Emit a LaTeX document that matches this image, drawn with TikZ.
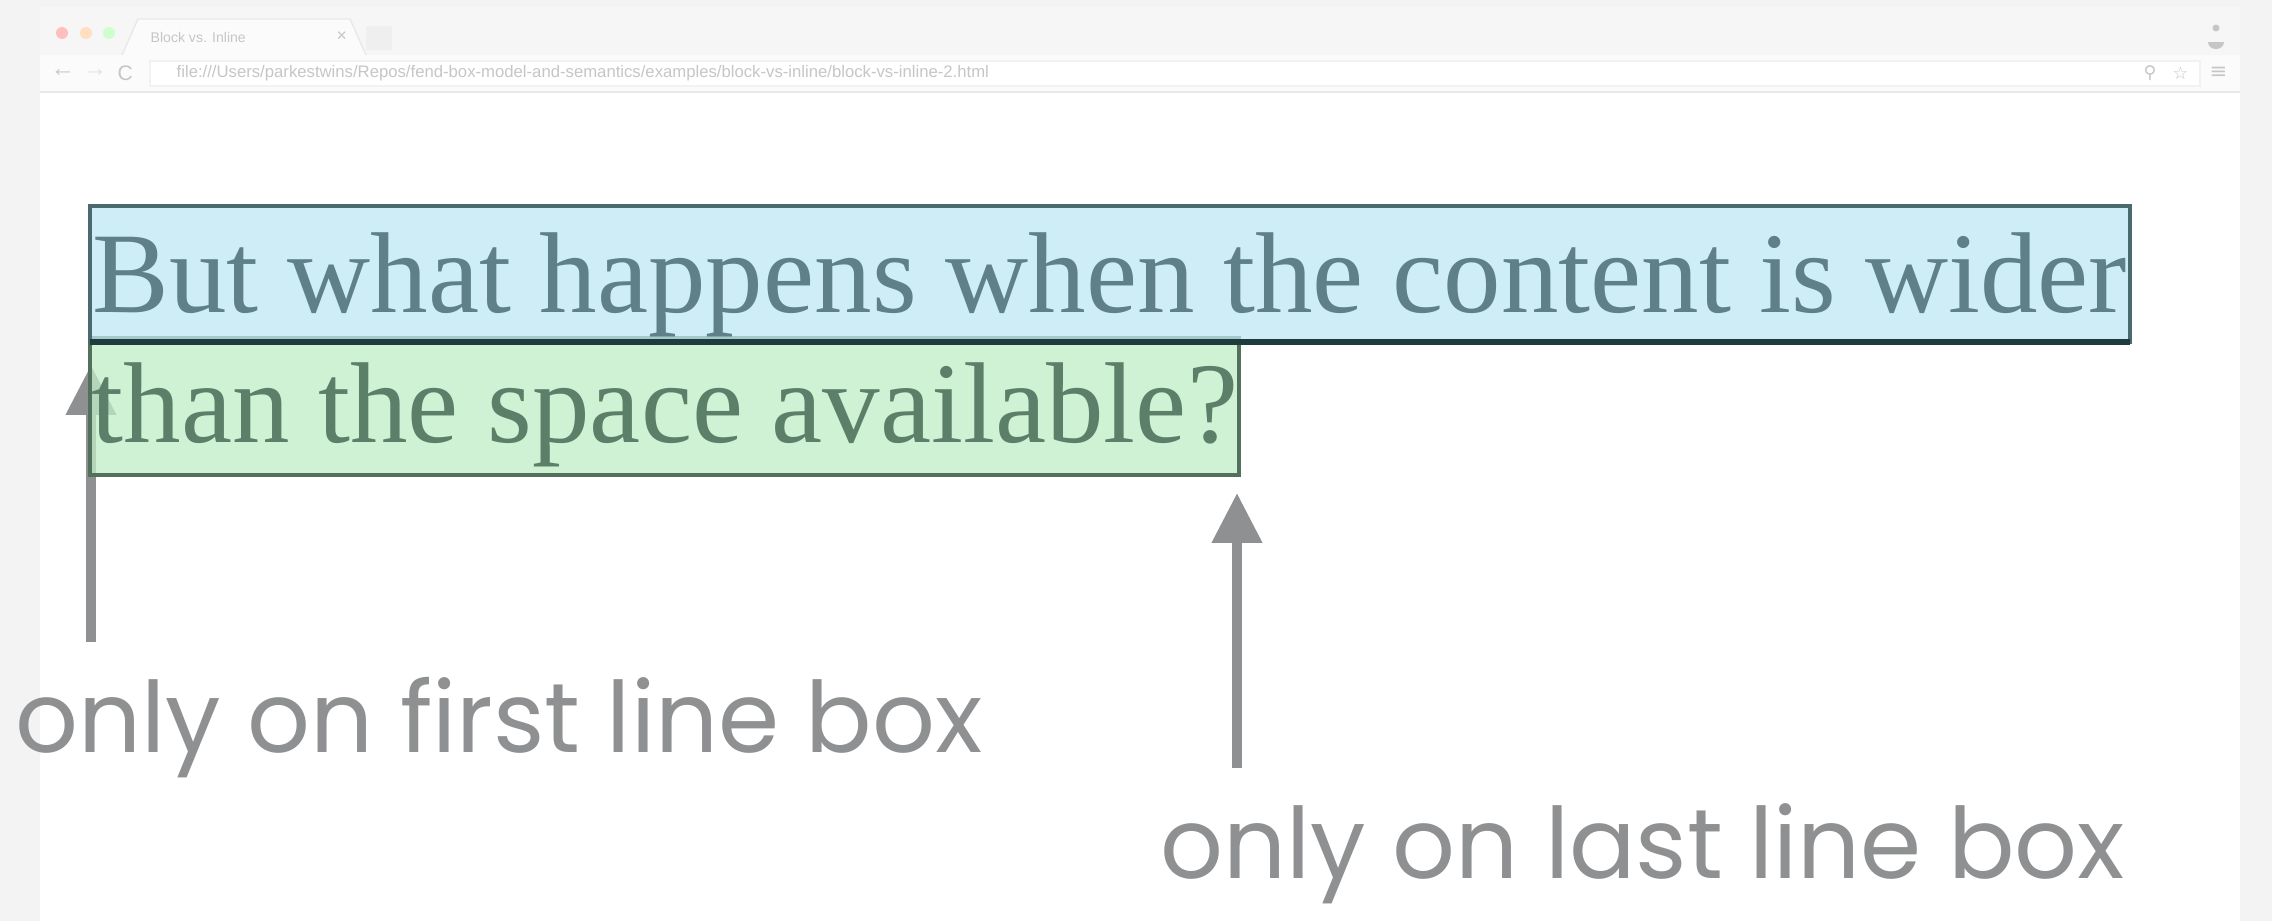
\documentclass[tikz,border=0pt]{standalone}
\usepackage{fontspec}
\setmainfont{Liberation Serif}
\newfontfamily\handfont{Poppins}
\newfontfamily\uifont{Liberation Sans}
\newfontfamily\symfont{DejaVu Sans}
\usetikzlibrary{arrows.meta}

\definecolor{pageGray}{HTML}{F3F3F3}
\definecolor{chromeGray}{HTML}{F6F6F6}
\definecolor{chromeLine}{HTML}{E9E9E9}
\definecolor{chromeText}{HTML}{C6C6C6}
\definecolor{blueFill}{HTML}{BFE8F3}
\definecolor{blueLine}{HTML}{4A6A70}
\definecolor{blueDark}{HTML}{1F3B3D}
\definecolor{blueText}{HTML}{5F7F89}
\definecolor{greenFill}{HTML}{C0EEC8}
\definecolor{greenLine}{HTML}{52705C}
\definecolor{greenText}{HTML}{5B7F69}
\definecolor{noteGray}{HTML}{8E9092}

\begin{document}
\begin{tikzpicture}[x = 0.01cm, y = -0.01cm]
	\tikzstyle{lineBoxStyle} = [line width = 1.1pt, fill opacity = 0.75]
	\tikzstyle{lineTextStyle} = [inner sep = 0pt, anchor = base west, font = \fontsize{32.7}{36}\selectfont]
	\tikzstyle{noteStyle} = [inner sep = 0pt, anchor = base west, text = noteGray, font = \handfont\fontsize{28}{32}\selectfont]
	\tikzstyle{noteArrowStyle} = [draw = noteGray, line width = 2.85pt, -{Triangle[length = 14.2pt, width = 13.7pt]}]
	\tikzstyle{uiTextStyle} = [inner sep = 0pt, anchor = west, text = chromeText]
	\useasboundingbox (0, 0) rectangle (2272, 921);
	\fill[pageGray] (0, 0) rectangle (2272, 921);
	\fill[white] (40, 7) rectangle (2240, 921);
	\fill[chromeGray] (40, 7) rectangle (2240, 55);
	\filldraw[fill = white!60!chromeGray, draw = chromeLine] (122, 55) -- (138, 19) -- (350, 19) -- (366, 55);
	\fill[chromeLine!50!chromeGray] (366, 26) rectangle (392, 50);
	\fill[red!25] (62, 33) circle (6);
	\fill[orange!25] (86, 33) circle (6);
	\fill[green!20] (109, 33) circle (6);
	\node[uiTextStyle, font = \uifont\fontsize{4}{5}\selectfont] (tabTitle) at (150, 37) {Block vs. Inline};
	\node[uiTextStyle, font = \uifont\fontsize{5}{6}\selectfont] (tabClose) at (336, 37) {×};
	\fill[chromeText] (2216, 28) circle (3.5);
	\fill[chromeText] (2208, 42) arc (180 : 0 : 8 and 7) -- cycle;
	\fill[white!60!chromeGray] (40, 55) rectangle (2240, 92);
	\draw[chromeLine] (40, 92) -- (2240, 92);
	\filldraw[fill = white, draw = chromeLine!60] (150, 61) rectangle (2200, 86);
	\node[uiTextStyle, font = \uifont\fontsize{7}{8}\selectfont] (backBtn) at (50, 73) {←};
	\node[uiTextStyle, font = \uifont\fontsize{7}{8}\selectfont, text = chromeText!50] (fwdBtn) at (82, 73) {→};
	\node[uiTextStyle, font = \uifont\fontsize{6}{7}\selectfont] (reloadBtn) at (117, 73) {C};
	\node[uiTextStyle, font = \uifont\fontsize{4.75}{6}\selectfont] (urlText) at (176, 73) {file:///Users/parkestwins/Repos/fend-box-model-and-semantics/examples/block-vs-inline/block-vs-inline-2.html};
	\node[uiTextStyle, font = \symfont\fontsize{5}{6}\selectfont] (zoomIcon) at (2143, 73) {⚲};
	\node[uiTextStyle, font = \symfont\fontsize{5}{6}\selectfont] (starIcon) at (2172, 73) {☆};
	\node[uiTextStyle, font = \symfont\fontsize{6}{7}\selectfont] (menuIcon) at (2209, 73) {≡};
	\coordinate (firstTail) at (91, 642);
	\coordinate (firstTip) at (91, 365);
	\coordinate (lastTail) at (1237, 768);
	\coordinate (lastTip) at (1237, 493);
	\draw[noteArrowStyle] (firstTail) -- (firstTip);
	\draw[noteArrowStyle] (lastTail) -- (lastTip);
	\filldraw[lineBoxStyle, fill = greenFill, draw = greenLine] (90, 338) rectangle (1239, 475);
	\filldraw[lineBoxStyle, fill = blueFill, draw = blueLine] (90, 206) rectangle (2130, 342);
	\draw[blueDark, line width = 1.7pt] (90, 342) -- (2130, 342);
	\node[lineTextStyle, text = blueText] (lineOne) at (92, 312) {But what happens when the content is wider};
	\node[lineTextStyle, text = greenText] (lineTwo) at (91, 442) {than the space available?};
	\node[noteStyle] (firstNote) at (15, 752) {only on first line box};
	\node[noteStyle] (lastNote) at (1160, 878) {only on last line box};
\end{tikzpicture}
\end{document}
